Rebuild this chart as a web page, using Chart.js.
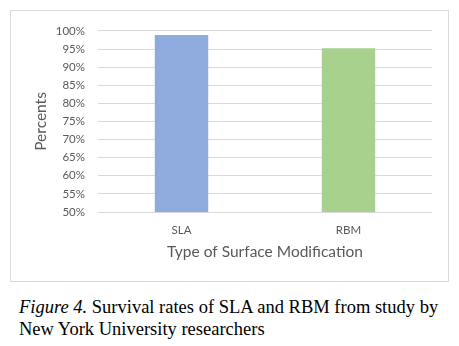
<!DOCTYPE html>
<html>
<head>
<meta charset="utf-8">
<script src="https://cdn.jsdelivr.net/npm/chart.js@4/dist/chart.umd.min.js"></script>
<style>
  html, body { margin: 0; padding: 0; background: #fff; }
  body { width: 459px; height: 346px; position: relative; overflow: hidden; }
  #box { position: absolute; left: 10px; top: 10px; width: 437px; height: 270px; border: 1px solid #d9d9d9; }
  #box canvas { display: block; }
  #cap { position: absolute; left: 19px; top: 296px; width: 430px; font-family: "Liberation Serif", "Times New Roman", serif; font-size: 18.5px; line-height: 22px; color: #000; }
</style>
</head>
<body>
<div id="box"><canvas id="c" width="437" height="270"></canvas></div>
<div id="cap"><i>Figure 4.</i> Survival rates of SLA and RBM from study by New York University researchers</div>
<script>
const categories = ["SLA", "RBM"];
const survivalRates = [98.9, 95.2];
const barColors = ["#8FAADC", "#A9D18E"];
const yMin = 50, yMax = 100, yStep = 5;
const xTitle = "Type of Surface Modification";
const yTitle = "Percents";

const fontFam = "Lato, 'Open Sans', sans-serif";
new Chart(document.getElementById("c"), {
  type: "bar",
  data: {
    labels: categories,
    datasets: [{
      data: survivalRates,
      backgroundColor: barColors,
      borderWidth: 0,
      barPercentage: 0.32,
      categoryPercentage: 1.0
    }]
  },
  options: {
    responsive: false,
    animation: false,
    devicePixelRatio: 1,
    layout: { padding: { top: 15, right: 16, left: 21, bottom: 20 } },
    plugins: { legend: { display: false }, tooltip: { enabled: false } },
    scales: {
      x: {
        grid: { display: false, drawTicks: false },
        border: { display: false },
        ticks: { color: "#595959", font: { family: fontFam, size: 11.5 }, padding: 11 },
        title: { display: true, text: xTitle, color: "#595959", font: { family: fontFam, size: 15.5 }, padding: { top: 4, bottom: 0 } },
        afterFit: (s) => { s.height = 49; }
      },
      y: {
        min: yMin, max: yMax,
        ticks: { stepSize: yStep, color: "#595959", font: { family: fontFam, size: 11.5 }, padding: 13,
                 callback: (v) => v + "%" },
        grid: { color: "#d9d9d9", lineWidth: 1, drawTicks: false },
        border: { display: false },
        title: { display: true, text: yTitle, color: "#595959", font: { family: fontFam, size: 15.5 }, padding: { top: 0, bottom: 0 } },
        afterFit: (s) => { s.width = 66; }
      }
    }
  }
});
</script>
</body>
</html>
